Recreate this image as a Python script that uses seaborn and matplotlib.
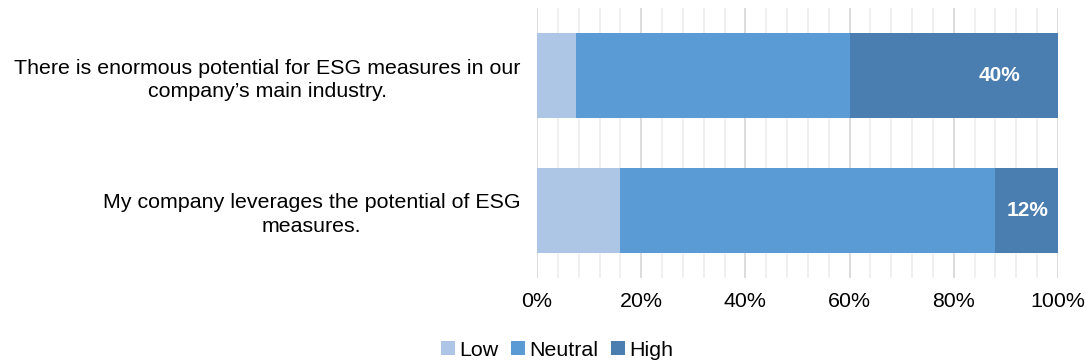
import numpy as np
import pandas as pd
import matplotlib.pyplot as plt
from matplotlib.patches import Patch
from matplotlib.ticker import MultipleLocator, PercentFormatter
import seaborn as sns

statements = [
    "There is enormous potential for ESG measures in our\ncompany\u2019s main industry.",
    "My company leverages the potential of ESG\nmeasures.",
]
low = [7.5, 16]
neutral = [52.5, 72]
high = [40, 12]
series = ["Low", "Neutral", "High"]
colors = ["#adc6e6", "#5b9bd5", "#4a7eb0"]

sns.set_theme(style="white")
plt.rcParams["font.family"] = ["Liberation Sans", "DejaVu Sans"]
plt.rcParams["text.color"] = "black"

df = pd.DataFrame({"statement": statements, "Low": low, "Neutral": neutral, "High": high})
# cumulative totals, drawn from the longest to the shortest so they stack
df["c_low"] = df["Low"]
df["c_neutral"] = df["Low"] + df["Neutral"]
df["c_high"] = df["c_neutral"] + df["High"]

fig = plt.figure(figsize=(10.86, 3.64), dpi=100)
ax = fig.add_axes([0.4945, 0.2363, 0.4797, 0.7417])

for col, c in zip(["c_high", "c_neutral", "c_low"], colors[::-1]):
    sns.barplot(data=df, y="statement", x=col, orient="h", color=c,
                width=0.63, saturation=1, edgecolor="none", linewidth=0, ax=ax)

# value labels in the High segment
label_x = [88.8, 94.2]
for i, v in enumerate(high):
    ax.text(label_x[i], i, f"{v:.0f}%", color="white", fontsize=15,
            fontweight="bold", ha="center", va="center")

ax.set_xlim(0, 100)
ax.set_ylim(1.5, -0.5)
ax.xaxis.set_major_locator(MultipleLocator(20))
ax.xaxis.set_minor_locator(MultipleLocator(4))
ax.xaxis.set_major_formatter(PercentFormatter(decimals=0))
ax.grid(axis="x", which="major", color="#d9d9d9", linewidth=1.3)
ax.grid(axis="x", which="minor", color="#efefef", linewidth=1.3)
ax.set_axisbelow(True)
for s in ax.spines.values():
    s.set_visible(False)
ax.set_xlabel("")
ax.set_ylabel("")
ax.tick_params(axis="x", which="both", length=0, pad=10, labelsize=15.4, colors="black")
ax.tick_params(axis="y", length=0, pad=12, labelsize=15.4, colors="black")
for t in ax.get_yticklabels():
    t.set_multialignment("center")
    t.set_linespacing(1.3)

handles = [Patch(facecolor=c, edgecolor="none", label=s) for s, c in zip(series, colors)]
fig.legend(handles=handles, loc="center", bbox_to_anchor=(0.513, 0.038), ncol=3,
           frameon=False, fontsize=15.4, handlelength=0.65, handleheight=0.65,
           handletextpad=0.2, columnspacing=0.6)

fig.savefig("out.png", dpi=100)
plt.close(fig)
